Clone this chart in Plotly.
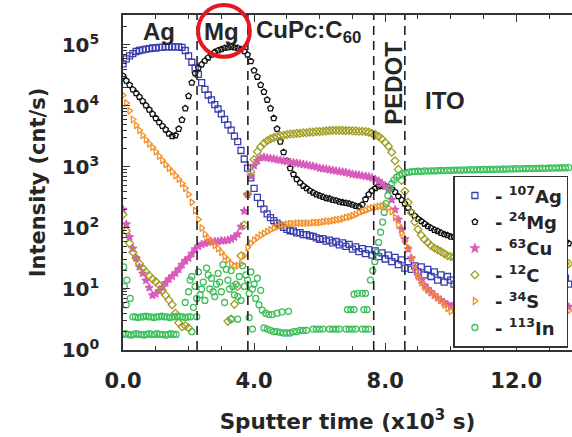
import plotly.graph_objects as go

# Sputter time (x10^3 s): common sampling grid of the matrix ions
time_ks = [
    0.0, 0.1, 0.2, 0.3, 0.4, 0.5, 0.6, 0.7, 0.8, 0.9,
    1.0, 1.1, 1.2, 1.3, 1.4, 1.5, 1.6, 1.7, 1.8, 1.9,
    2.0, 2.1, 2.2, 2.3, 2.4, 2.5, 2.6, 2.7, 2.8, 2.9,
    3.0, 3.1, 3.2, 3.3, 3.4, 3.5, 3.6, 3.7, 3.8, 3.9,
    4.0, 4.1, 4.2, 4.3, 4.4, 4.5, 4.6, 4.7, 4.8, 4.9,
    5.0, 5.1, 5.2, 5.3, 5.4, 5.5, 5.6, 5.7, 5.8, 5.9,
    6.0, 6.1, 6.2, 6.3, 6.4, 6.5, 6.6, 6.7, 6.8, 6.9,
    7.0, 7.1, 7.2, 7.3, 7.4, 7.5, 7.6, 7.7, 7.8, 7.9,
    8.0, 8.1, 8.2, 8.3, 8.4, 8.5, 8.6, 8.7, 8.8, 8.9,
    9.0, 9.1, 9.2, 9.3, 9.4, 9.5, 9.6, 9.7, 9.8, 9.9,
    10.0, 10.1, 10.2, 10.3, 10.4, 10.5, 10.6, 10.7, 10.8, 10.9,
    11.0, 11.1, 11.2, 11.3, 11.4, 11.5, 11.6, 11.7, 11.8, 11.9,
    12.0, 12.1, 12.2, 12.3, 12.4, 12.5, 12.6, 12.7, 12.8, 12.9,
    13.0, 13.1, 13.2, 13.3, 13.4, 13.5, 13.6,
]

# Intensities (cnt/s)
ag_107 = [
    4.9e4, 5.9e4, 6.6e4, 7.2e4, 7.8e4, 8.1e4, 8.3e4, 8.5e4, 8.7e4, 8.9e4,
    8.9e4, 9.1e4, 9.1e4, 9.3e4, 9.3e4, 9.3e4, 9.3e4, 9.3e4, 9.1e4, 8.1e4,
    6.6e4, 5.2e4, 4.2e4, 3.3e4, 2.4e4, 1.86e4, 1.51e4, 1.26e4, 1.05e4, 8.9e3,
    7.4e3, 6.0e3, 4.9e3, 4.0e3, 3.2e3, 2.6e3, 1.86e3, 1.35e3, 955, 660,
    447, 316, 251, 204, 170, 148, 132, 120, 110, 102,
    95, 90, 89, 83, 84, 78, 78, 74, 73, 69,
    65, 67, 61, 63, 57, 60, 53, 57, 50, 54,
    45, 49, 41, 46, 38, 44, 36, 42, 34, 39,
    31, 36, 28, 33, 25, 30, 22, 28, 21, 24,
    19, 23, 17, 21, 16, 19, 14, 17, 13, 16,
    14, 12, 15, 13, 11, 14, 12, 15, 13, 11,
    14, 12, 16, 13, 12, 14, 11, 13, 15, 12,
    14, 13, 12, 15, 13, 12, 14, 13, 12, 15,
    13, 11, 14, 12, 13, 15, 12,
]
mg_24 = [
    3.1e4, 2.6e4, 2.2e4, 1.86e4, 1.62e4, 1.41e4, 1.2e4, 1.02e4, 8.7e3, 7.4e3,
    6.3e3, 5.4e3, 4.7e3, 4.1e3, 3.5e3, 3.2e3, 3.3e3, 4.2e3, 5.9e3, 9.1e3,
    1.45e4, 2.4e4, 3.4e4, 4.2e4, 4.8e4, 5.5e4, 6.2e4, 6.9e4, 7.6e4, 8.1e4,
    8.5e4, 8.9e4, 9.1e4, 9.3e4, 9.1e4, 8.9e4, 8.5e4, 7.9e4, 6.9e4, 5.4e4,
    3.8e4, 3.0e4, 2.2e4, 1.7e4, 1.26e4, 9.1e3, 6.3e3, 4.2e3, 2.6e3, 1.74e3,
    1.26e3, 955, 759, 631, 550, 490, 447, 407, 380, 355,
    339, 324, 309, 302, 288, 282, 269, 263, 257, 251,
    240, 229, 224, 240, 295, 355, 407, 447, 479, 490,
    490, 468, 437, 389, 331, 288, 251, 214, 182, 158,
    141, 129, 117, 107, 100, 93, 89, 83, 79, 76,
    72, 71, 70, 69, 69, 68, 67, 67, 66, 66,
    65, 65, 64, 64, 63, 63, 62, 62, 62, 61,
    61, 61, 60, 60, 60, 59, 59, 59, 58, 58,
    58, 58, 57, 57, 57, 57, 56,
]
cu_63 = [
    200, 115, 71, 46, 32, 23, 18, 13.8, 10.5, 7.9,
    8.3, 9.3, 10.7, 12.6, 14.5, 16.2, 18.2, 21, 25, 29,
    32, 38, 45, 50, 54, 56, 58, 59, 60, 60,
    62, 62, 63, 66, 71, 79, 105, 190, 355, 708,
    1050, 1260, 1410, 1450, 1410, 1380, 1350, 1320, 1290, 1260,
    1230, 1200, 1180, 1150, 1130, 1100, 1080, 1050, 1030, 1000,
    955, 940, 920, 900, 880, 860, 845, 830, 810, 790,
    760, 750, 735, 720, 705, 690, 665, 630, 590, 540,
    480, 420, 290, 200, 138, 95, 66, 45, 32, 23,
    17, 13.8, 11.5, 10, 8.9, 7.9, 7.2, 6.6, 6.0, 5.6,
    5.2, 5.6, 4.9, 5.4, 5.0, 5.7, 4.8, 5.3, 5.1, 4.7,
    5.5, 5.0, 5.3, 4.8, 5.6, 5.1, 4.9, 5.4, 5.0, 5.2,
    4.7, 5.3, 5.5, 4.9, 5.2, 5.0, 5.6, 4.8, 5.1, 5.3,
    4.9, 5.2, 5.4, 5.0, 4.8, 5.3, 5.1,
]
c_12 = [
    166, 89, 56, 40, 32, 26, 22, 19, 16.6, 14.5,
    13.2, 11.5, 9.5, 7.9, 6.6, 5.5, 4.0, 2.8, 2.4, 2.5,
    2.3, None, None, None, None, None, None, None, None, None,
    None, None, 2.95, 3.2, 5.6, 11, 35, 112, 355, 832,
    1320, 1780, 2140, 2450, 2690, 2880, 3020, 3160, 3240, 3310,
    3390, 3470, 3470, 3550, 3550, 3630, 3630, 3720, 3720, 3800,
    3800, 3850, 3890, 3930, 3980, 3980, 3980, 3980, 3930, 3930,
    3890, 3890, 3850, 3850, 3800, 3720, 3550, 3390, 3160, 2880,
    2510, 2190, 1740, 1260, 912, 603, 398, 263, 178, 126,
    95, 76, 65, 58, 51, 47, 44, 41, 38, 35,
    34, 33, 33, 32, 32, 32, 31, 31, 31, 30,
    30, 30, 30, 29, 29, 29, 29, 29, 28, 28,
    28, 28, 28, 28, 27, 27, 27, 27, 27, 27,
    27, 26, 26, 26, 26, 26, 26,
]
s_34 = [
    1.5e4, 1.12e4, 8.3e3, 6.0e3, 4.8e3, 4.0e3, 3.3e3, 2.8e3, 2.4e3, 2.1e3,
    1.78e3, 1.51e3, 1.29e3, 1.1e3, 955, 832, 724, 631, 537, 447,
    355, 263, 191, 138, 100, 79, 68, 59, 52, 46,
    40, 34, 30, 26, 24, 24, 26, 35, 48, 56,
    63, 69, 76, 81, 87, 93, 100, 105, 110, 112,
    115, 117, 117, 120, 120, 120, 120, 120, 123, 123,
    123, 126, 129, 129, 132, 135, 138, 141, 148, 151,
    158, 166, 178, 186, 195, 204, 214, 219, 224, 229,
    229, 214, 186, 148, 112, 83, 63, 48, 32, 21,
    16, 12.6, 10.7, 9.5, 8.7, 7.9, 7.2, 6.5, 5.5, 4.8,
    4.3, 4.6, 4.0, 4.4, 4.8, 4.1, 4.5, 3.9, 4.3, 4.7,
    4.0, 4.4, 4.2, 3.8, 4.5, 4.1, 4.6, 4.0, 4.3, 3.9,
    4.4, 4.2, 4.0, 4.5, 4.1, 4.3, 3.8, 4.4, 4.2, 4.6,
    4.0, 4.3, 4.1, 4.5, 3.9, 4.2, 4.4,
]

# 113In sits at a few discrete low count levels before the ITO, so it keeps its own times
in_time_ks = [
    # 1.8 cnt/s level
    0.0, 0.08, 0.16, 0.24, 0.32, 0.4, 0.48, 0.56, 0.64, 0.72, 0.8,
    0.88, 0.96, 1.04, 1.12, 1.2, 1.3, 1.38, 1.46, 1.54, 1.62,
    # 3.5 cnt/s level
    0.3, 0.38, 0.46, 0.54, 0.62, 0.7, 0.78, 0.86, 0.94, 1.02, 1.1, 1.18,
    1.26, 1.34, 1.42, 1.5, 1.58, 1.66, 1.74, 1.82, 1.9, 1.98, 2.06,
    # surface
    0.02, 0.04, 0.1, 0.12, 0.22,
    # Mg layer
    1.9, 2.0, 2.05, 2.15, 2.2, 2.3, 2.35, 2.45, 2.5, 2.55, 2.65, 2.7,
    2.8, 2.85, 2.9, 3.0, 3.05, 3.1, 3.2, 3.25, 3.3, 3.4, 3.45, 3.55,
    3.6, 3.65, 3.7, 3.8, 3.85, 3.9, 4.0, 4.05, 4.1, 4.15, 4.2,
    2.1, 2.25, 2.4, 2.6, 2.75, 2.95, 3.15, 3.35, 3.5, 3.75, 3.95,
    2.1, 2.25, 3.3, 3.5, 3.85, 3.95,
    # organic layer
    4.25, 4.35, 4.45, 4.55, 4.7, 4.85, 5.05,
    4.3, 4.4, 4.5, 4.6, 4.7, 4.8, 4.9, 5.0, 5.1, 5.2, 5.3, 5.4, 5.5, 5.6,
    5.8, 5.9, 6.0, 6.1, 6.3, 6.4, 6.5, 6.6, 6.8, 6.9, 7.0, 7.1, 7.3, 7.4, 7.5,
    6.85, 6.95, 7.05, 7.35, 7.45,
    7.05, 7.15, 7.3, 7.4,
    # PEDOT / ITO interface
    7.55, 7.62, 7.68, 7.74, 7.8, 7.86, 7.92, 7.97, 8.02, 8.08,
    8.14, 8.2, 8.27, 8.35, 8.43, 8.52, 8.62, 8.72, 8.82,
    # ITO
    8.9, 9.0, 9.1, 9.2, 9.3, 9.4, 9.5, 9.6, 9.7, 9.8,
    9.9, 10.0, 10.1, 10.2, 10.3, 10.4, 10.5, 10.6, 10.7, 10.8,
    10.9, 11.0, 11.1, 11.2, 11.3, 11.4, 11.5, 11.6, 11.7, 11.8,
    11.9, 12.0, 12.1, 12.2, 12.3, 12.4, 12.5, 12.6, 12.7, 12.8,
    12.9, 13.0, 13.1, 13.2, 13.3, 13.4, 13.5, 13.6,
]
in_113 = [
    1.8, 1.85, 1.8, 1.75, 1.8, 1.85, 1.8, 1.8, 1.75, 1.8, 1.85,
    1.8, 1.8, 1.85, 1.8, 1.8, 1.75, 1.8, 1.85, 1.8, 1.8,
    3.5, 3.5, 3.4, 3.5, 3.5, 3.6, 3.5, 3.5, 3.4, 3.5, 3.5, 3.6,
    3.5, 3.5, 3.4, 3.5, 3.5, 3.6, 3.5, 3.5, 3.4, 3.5, 3.5,
    23, 11, 5.5, 14, 7.0,
    6.0, 9.0, 14, 5.0, 11, 19, 8.0, 13, 6.5, 22, 10, 15,
    7.5, 12, 18, 9.0, 25, 6.0, 14, 10, 20, 8.0, 12, 16,
    6.5, 24, 11, 14, 8.5, 19, 12, 7.0, 15, 5.5, 9.5,
    16, 7.0, 10, 17, 9.0, 13, 21, 11, 7.5, 17, 10,
    2.0, 3.5, 3.2, 3.2, 3.4, 2.2,
    4.5, 4.0, 3.8, 3.8, 4.0, 4.2, 4.3,
    2.3, 2.2, 2.1, 2.0, 2.0, 1.95, 1.9, 1.9, 1.9, 2.0, 2.0, 2.1, 2.1, 2.1,
    2.2, 2.2, 2.2, 2.2, 2.2, 2.2, 2.2, 2.2, 2.2, 2.2, 2.2, 2.2, 2.2, 2.2, 2.2,
    4.6, 4.6, 4.6, 4.6, 4.6,
    8.2, 8.5, 8.5, 8.5,
    14, 20, 28, 40, 58, 85, 125, 180, 250, 340,
    440, 530, 610, 680, 730, 770, 800, 820, 835,
    840, 850, 845, 860, 855, 865, 860, 870, 875, 870,
    880, 875, 885, 890, 885, 895, 890, 900, 895, 905,
    900, 910, 905, 915, 910, 920, 915, 925, 920, 930,
    925, 935, 930, 940, 935, 945, 940, 950, 945, 955,
    950, 960, 955, 965, 960, 970, 965, 975,
]

# Layer interfaces (x10^3 s)
interfaces_ks = [2.26, 3.81, 7.65, 8.6]

species = [
    ("- <sup>107</sup>Ag", time_ks, ag_107, "square-open", "#3a3fae"),
    ("- <sup>24</sup>Mg", time_ks, mg_24, "pentagon-open", "#111111"),
    ("- <sup>63</sup>Cu", time_ks, cu_63, "star", "#d95cbc"),
    ("- <sup>12</sup>C", time_ks, c_12, "diamond-open", "#a09e22"),
    ("- <sup>34</sup>S", time_ks, s_34, "triangle-right-open", "#f39026"),
    ("- <sup>113</sup>In", in_time_ks, in_113, "circle-open", "#3fbf5c"),
]

AXIS_FONT = "DejaVu Sans, Verdana, sans-serif"
LABEL_FONT = "Liberation Sans, Arial, sans-serif"
INK = "#262626"

fig = go.Figure()
for name, t, cps, symbol, color in species:
    fig.add_trace(go.Scatter(
        x=t, y=cps, mode="markers", name=name,
        marker=dict(symbol=symbol, size=6, color=color,
                    line=dict(color=color, width=1.3)),
    ))

shapes = []
for xv in interfaces_ks:
    shapes.append(dict(type="line", xref="x", yref="paper", x0=xv, x1=xv, y0=0, y1=1,
                       line=dict(color="#222222", width=1.6, dash="9px,6px")))
# red highlight around the Mg label
shapes.append(dict(type="circle", xref="x", yref="paper", x0=2.29, x1=3.87,
                   y0=0.875, y1=1.03, line=dict(color="#e3191f", width=4)))

label_font = dict(family=LABEL_FONT, size=24, color=INK, weight="bold")
annotations = [
    dict(text="Ag", x=1.1, y=0.95),
    dict(text="Mg", x=3.02, y=0.95),
    dict(text="CuPc:C<sub>60</sub>", x=4.0, y=0.95, xanchor="left"),
    dict(text="PEDOT", x=8.23, y=0.797, textangle=-90),
    dict(text="ITO", x=9.82, y=0.746),
]
for a in annotations:
    a.setdefault("xanchor", "center")
    a.update(xref="x", yref="paper", yanchor="middle", showarrow=False, font=label_font)

decades = [1, 10, 100, 1000, 10000, 100000]
fig.update_layout(
    width=572, height=437,
    margin=dict(l=123, r=0, t=15, b=87),
    paper_bgcolor="white", plot_bgcolor="white",
    font=dict(family=AXIS_FONT, color=INK),
    shapes=shapes, annotations=annotations,
    showlegend=True,
    legend=dict(x=0.992, y=0.52, xanchor="right", yanchor="top",
                bgcolor="white", bordercolor="#333333", borderwidth=1.5,
                font=dict(family=AXIS_FONT, size=18, color=INK, weight="bold"),
                tracegroupgap=0, itemwidth=30),
    xaxis=dict(
        range=[0, 13.7], showgrid=False, zeroline=False,
        showline=True, linecolor="#333333", linewidth=1.5, mirror="ticks",
        ticks="inside", ticklen=7, tickwidth=1.4, tickcolor="#333333",
        tickvals=[0, 4, 8, 12], ticktext=["0.0", "4.0", "8.0", "12.0"],
        minor=dict(dtick=1, ticks="inside", ticklen=4, tickcolor="#333333"),
        tickfont=dict(family=AXIS_FONT, size=21, color=INK, weight="bold"),
        ticklabelstandoff=11,
        title=dict(text="Sputter time (x10<sup>3</sup> s)", standoff=22,
                   font=dict(family=AXIS_FONT, size=21.5, color=INK, weight="bold")),
    ),
    yaxis=dict(
        type="log", range=[0, 5.49], showgrid=False, zeroline=False,
        showline=True, linecolor="#333333", linewidth=1.5,
        ticks="inside", ticklen=7, tickwidth=1.4, tickcolor="#333333",
        tickvals=decades, ticktext=[f"10<sup>{k}</sup>" for k in range(6)],
        minor=dict(dtick="D1", ticks="inside", ticklen=4, tickcolor="#333333"),
        tickfont=dict(family=AXIS_FONT, size=20, color=INK, weight="bold"),
        ticklabelstandoff=18,
        title=dict(text="Intensity (cnt/s)", standoff=10,
                   font=dict(family=AXIS_FONT, size=21, color=INK, weight="bold")),
    ),
)

fig.write_html("out.html")
